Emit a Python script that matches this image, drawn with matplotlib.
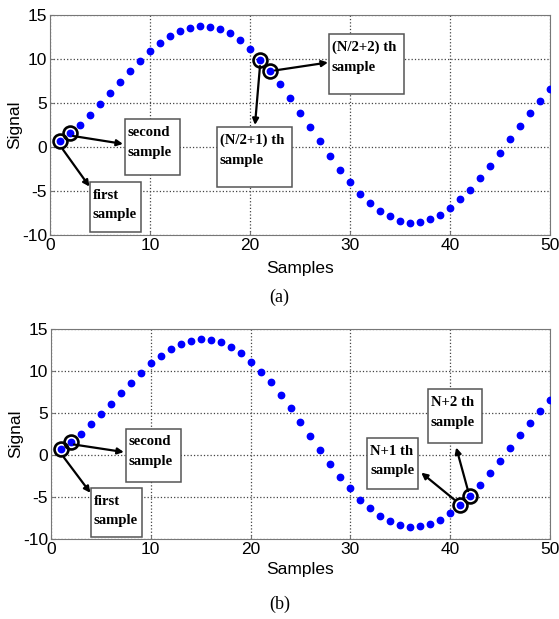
import matplotlib.pyplot as plt
from matplotlib.patches import Rectangle
import numpy as np

plt.rcParams['axes.unicode_minus'] = False

# sample values
samples = np.arange(1, 51)
signal = [0.72, 1.59, 2.54, 3.64, 4.85, 6.10, 7.39, 8.60, 9.77, 10.90,
          11.80, 12.60, 13.20, 13.56, 13.75, 13.67, 13.40, 12.90, 12.10, 11.10,
          9.90, 8.64, 7.12, 5.60, 3.90, 2.23, 0.64, -1.02, -2.58, -3.98,
          -5.30, -6.36, -7.23, -7.90, -8.37, -8.60, -8.48, -8.20, -7.73, -6.93,
          -5.90, -4.85, -3.56, -2.16, -0.68, 0.87, 2.39, 3.83, 5.23, 6.55]

xticks = [0, 10, 20, 30, 40, 50]
yticks = [-10, -5, 0, 5, 10, 15]

# circled samples (1-based) for each panel
circ_a = [1, 2, 21, 22]
circ_b = [1, 2, 41, 42]

# (text, box x0, x1, y_top, y_bottom, arrow start x, y, arrow head x, y)
notes_common = [
    ("second\nsample", 7.5, 13.0, 3.15, -3.2, 2.3, 1.25, 7.3, 0.35),
    ("first\nsample", 4.0, 9.1, -3.95, -9.7, 1.3, -0.3, 3.95, -4.5),
]
notes_a = [
    ("(N/2+1) th\nsample", 16.7, 24.2, 2.3, -4.55, 21.0, 9.2, 20.5, 2.5),
    ("(N/2+2) th\nsample", 27.9, 35.4, 12.85, 6.0, 22.5, 8.7, 27.8, 9.6),
]
notes_b = [
    ("N+1 th\nsample", 31.7, 36.8, 2.05, -4.1, 40.4, -5.3, 37.1, -2.1),
    ("N+2 th\nsample", 37.75, 43.2, 7.8, 1.4, 41.8, -4.3, 40.6, 0.9),
]

sans = ['Liberation Sans', 'DejaVu Sans']
serif = ['Liberation Serif', 'DejaVu Serif']

fig = plt.figure(figsize=(5.59, 6.19), dpi=100)
ax1 = fig.add_axes([0.0894, 0.6204, 0.8945, 0.3554])
ax2 = fig.add_axes([0.0912, 0.1292, 0.8927, 0.3393])


def draw(ax, circ, notes, xlab_y):
    ax.plot(samples, signal, 'o', color='#0000ff', markersize=4.6, zorder=3)
    for c in circ:
        ax.plot(samples[c - 1], signal[c - 1], 'o', mfc='none', mec='black',
                markersize=10, mew=1.9, zorder=4)
    for txt, x0, x1, yt, yb, sx, sy, hx, hy in notes:
        ax.add_patch(Rectangle((x0, yb), x1 - x0, yt - yb, fc='white',
                               ec='#555555', lw=1.1, zorder=5))
        ax.text(x0 + 0.3, yt - 0.8, txt, fontsize=10.6, fontweight='bold',
                family=serif, va='top', ha='left', linespacing=1.65, zorder=6)
        ax.annotate('', xy=(hx, hy), xytext=(sx, sy), zorder=6,
                    arrowprops=dict(arrowstyle='-|>', color='black', lw=1.6,
                                    mutation_scale=9, shrinkA=0, shrinkB=0))
    ax.set_xlim(0, 50)
    ax.set_ylim(-10, 15)
    ax.set_xticks(xticks)
    ax.set_yticks(yticks)
    ax.grid(True, linestyle=':', color='#444444', linewidth=0.9)
    ax.tick_params(direction='in', length=3, labelsize=12.5, pad=2, color='#777777')
    for lab in ax.get_xticklabels() + ax.get_yticklabels():
        lab.set_family(sans)
    for s in ax.spines.values():
        s.set_color('#777777')
    ax.set_xlabel('Samples', fontsize=12.5, family=sans)
    ax.set_ylabel('Signal', fontsize=12.5, family=sans)
    ax.yaxis.set_label_coords(-0.056, 0.5)
    ax.xaxis.set_label_coords(0.5, xlab_y)


draw(ax1, circ_a, notes_common + notes_a, -0.118)
draw(ax2, circ_b, notes_common + notes_b, -0.11)

fig.text(0.5, 1 - 297 / 619, '(a)', ha='center', va='center', fontsize=13, family=serif)
fig.text(0.5, 1 - 604 / 619, '(b)', ha='center', va='center', fontsize=13, family=serif)

fig.savefig('out.png', dpi=100)
